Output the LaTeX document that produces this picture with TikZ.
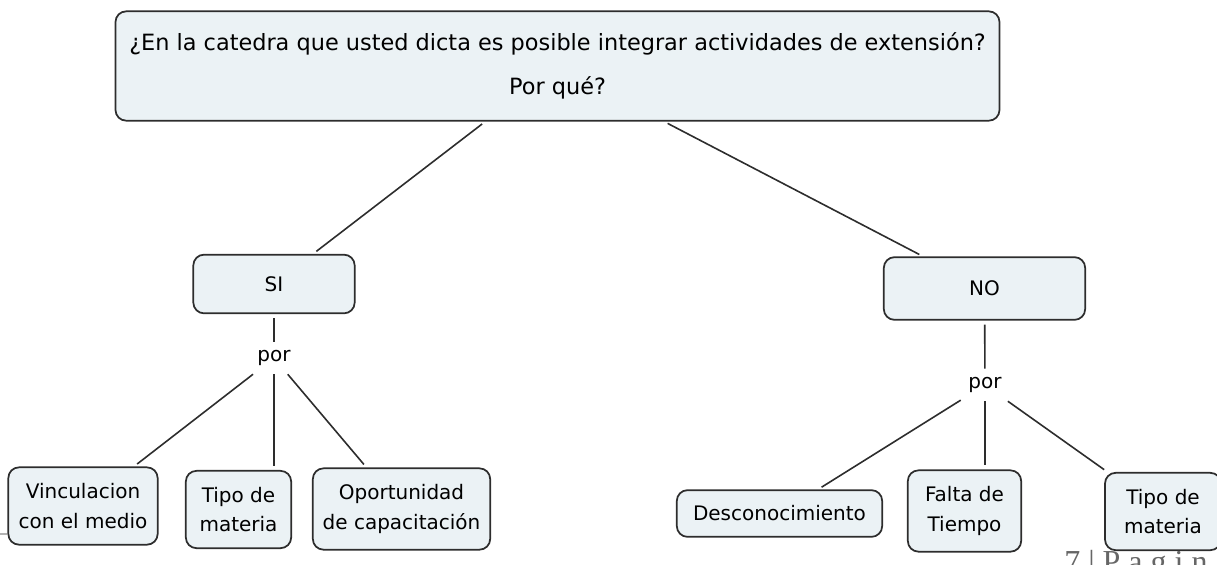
\documentclass[tikz,border=0pt]{standalone}
\usepackage{fontspec}
\setmainfont{DejaVu Sans}
\newfontfamily\footerfont{Liberation Serif}
\usetikzlibrary{positioning, calc}
\definecolor{boxfill}{RGB}{235,242,245}
\definecolor{boxline}{RGB}{45,45,45}
\tikzset{%
   cbox/.style={
      draw=boxline,
      fill=boxfill,
      line width=1.3pt,
      rounded corners=8pt,
      align=center,
      inner sep=0pt,
      font=\fontsize{15}{22}\selectfont
   },
   lbl/.style={
      inner sep=0pt,
      minimum width=36pt,
      minimum height=24pt,
      font=\fontsize{15}{22}\selectfont
   },
   link/.style={
      draw=boxline,
      line width=1.2pt
   },
   gap/.style={
      shorten >=3pt
   },
}

\begin{document}
\begin{tikzpicture}[x=0.75pt, y=-0.75pt]
      \useasboundingbox (0,0) rectangle (1217,564);
      % question
      \node[cbox, minimum width=663pt, minimum height=82pt, font=\fontsize{16.8}{22}\selectfont] (Q) at (557.5,66)
         {¿En la catedra que usted dicta es posible integrar actividades de extensión?\\[11pt]Por qué?};
      % answers
      \node[cbox, minimum width=121pt, minimum height=44pt] (si) at (274,284) {SI};
      \node[cbox, minimum width=151pt, minimum height=47pt] (no) at (984.5,288.5) {NO};
      \node[lbl] (por1) at (274,358) {por};
      \node[lbl] (por2) at (985,385) {por};
      % reasons for SI
      \node[cbox, minimum width=112pt, minimum height=58pt] (vinc) at (83,506) {Vinculacion\\con el medio};
      \node[cbox, minimum width=79pt, minimum height=58pt] (tipo1) at (238.5,509.5) {Tipo de\\materia};
      \node[cbox, minimum width=133pt, minimum height=61pt] (oport) at (401.5,509) {Oportunidad\\de capacitación};
      % reasons for NO
      \node[cbox, minimum width=154pt, minimum height=35pt] (desc) at (779.5,513.5) {Desconocimiento};
      \node[cbox, minimum width=85pt, minimum height=61pt] (falta) at (964.5,511) {Falta de\\Tiempo};
      \node[cbox, minimum width=87pt, minimum height=58pt] (tipo2) at (1163,511.5) {Tipo de\\materia};

      \path (Q) edge[link, shorten <=3pt, gap] (si);
      \path (Q) edge[link, shorten <=3pt, gap] (no);
      \path (si) edge[link, shorten <=3pt] (por1);
      \path (no) edge[link, shorten <=3pt] (por2);
      \path (por1) edge[link, gap] (vinc);
      \path (por1) edge[link, gap] (por1 |- tipo1.north);
      \path (por1) edge[link, gap] (oport);
      \path (por2) edge[link, gap] (desc);
      \path (por2) edge[link, gap] (por2 |- falta.north);
      \path (por2) edge[link, gap] (tipo2);

      % page footer
      \coordinate (rule) at (0,534);
      \draw[gray!60, line width=0.8pt] (rule) -- (vinc.west |- rule);
      \node[anchor=base west, inner sep=0pt, text=gray!80!black, font=\footerfont\fontsize{24}{24}\selectfont] (pg) at (1064,572) {7 | P a g i n a};
\end{tikzpicture}
\end{document}
